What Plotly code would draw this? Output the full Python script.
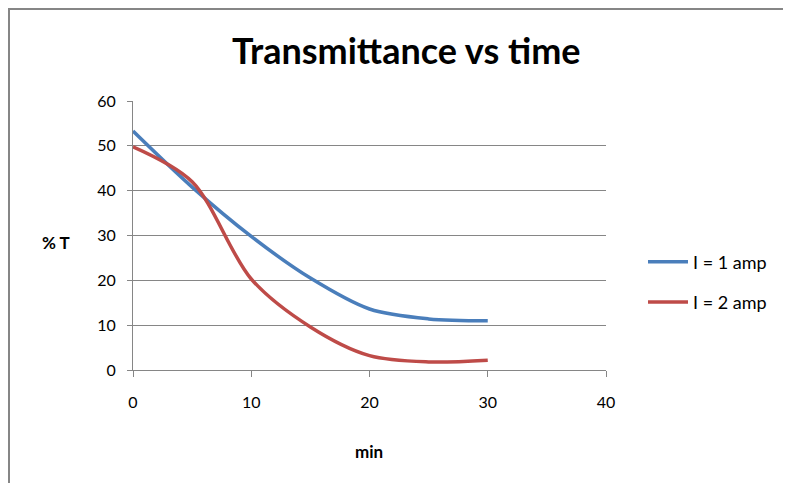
import plotly.graph_objects as go

time_min = [0, 5, 10, 15, 20, 25, 30]
t_1amp = [53.3, 40.8, 29.8, 20.5, 13.6, 11.4, 11.0]
t_2amp = [49.8, 42.0, 20.3, 9.6, 3.2, 1.8, 2.2]
series_names = ["I = 1 amp", "I = 2 amp"]
x_ticks = [0, 10, 20, 30, 40]
y_ticks = [0, 10, 20, 30, 40, 50, 60]

OFF = 8  # browser body margin
W, H = 791 - OFF, 483 - OFF
L, R, T, B = 133 - OFF, 791 - 606, 101 - OFF, 483 - 370
pw, ph = W - L - R, H - T - B

def px(xp):
    return (xp - OFF - L) / pw

def py(yp):
    return (H - B - (yp - OFF)) / ph

fig = go.Figure()
fig.add_trace(go.Scatter(x=time_min, y=t_1amp, name=series_names[0], mode="lines",
                         legendgroup="a",
                         line=dict(color="#4A7EBB", width=3.5, shape="spline", smoothing=0.9)))
fig.add_trace(go.Scatter(x=time_min, y=t_2amp, name=series_names[1], mode="lines",
                         legendgroup="b",
                         line=dict(color="#BE4B48", width=3.5, shape="spline", smoothing=0.9)))

axis_font = dict(family="Lato, Open Sans, sans-serif", size=16, color="#000000")
fig.update_layout(
    width=W, height=H,
    margin=dict(l=L, r=R, t=T, b=B),
    paper_bgcolor="white", plot_bgcolor="white",
    showlegend=True,
    legend=dict(x=px(643), y=py(282), xanchor="left", yanchor="middle",
                font=dict(family="Lato, Open Sans, sans-serif", size=18, color="#000"),
                itemwidth=40, tracegroupgap=14, bgcolor="rgba(0,0,0,0)"),
    xaxis=dict(range=[0, 40], tickvals=x_ticks, showgrid=False, showline=True,
               linecolor="#868686", linewidth=1, ticks="outside", ticklen=6,
               tickcolor="#868686", tickfont=axis_font, zeroline=False,
               ticklabelstandoff=12),
    yaxis=dict(range=[0, 60], tickvals=y_ticks, showgrid=True, gridcolor="#868686",
               gridwidth=1, showline=True, linecolor="#868686", linewidth=1,
               ticks="outside", ticklen=5, tickcolor="#868686", tickfont=axis_font,
               zeroline=False, ticklabelstandoff=8),
    shapes=[dict(type="rect", xref="paper", yref="paper",
                 x0=px(9), x1=px(900), y0=py(600), y1=py(9),
                 line=dict(color="#868686", width=2))],
    annotations=[
        dict(text="<b>Transmittance vs time</b>", xref="paper", yref="paper",
             x=px(406), y=py(50), xanchor="center", yanchor="middle", showarrow=False,
             font=dict(family="Lato, sans-serif", size=36, color="#000")),
        dict(text="<b>% T</b>", xref="paper", yref="paper",
             x=px(56), y=py(243), xanchor="center", yanchor="middle", showarrow=False,
             font=dict(family="Lato, sans-serif", size=17, color="#000")),
        dict(text="<b>min</b>", xref="paper", yref="paper",
             x=px(369), y=py(451), xanchor="center", yanchor="middle", showarrow=False,
             font=dict(family="Lato, sans-serif", size=17, color="#000")),
    ],
)

fig.write_html("out.html")
